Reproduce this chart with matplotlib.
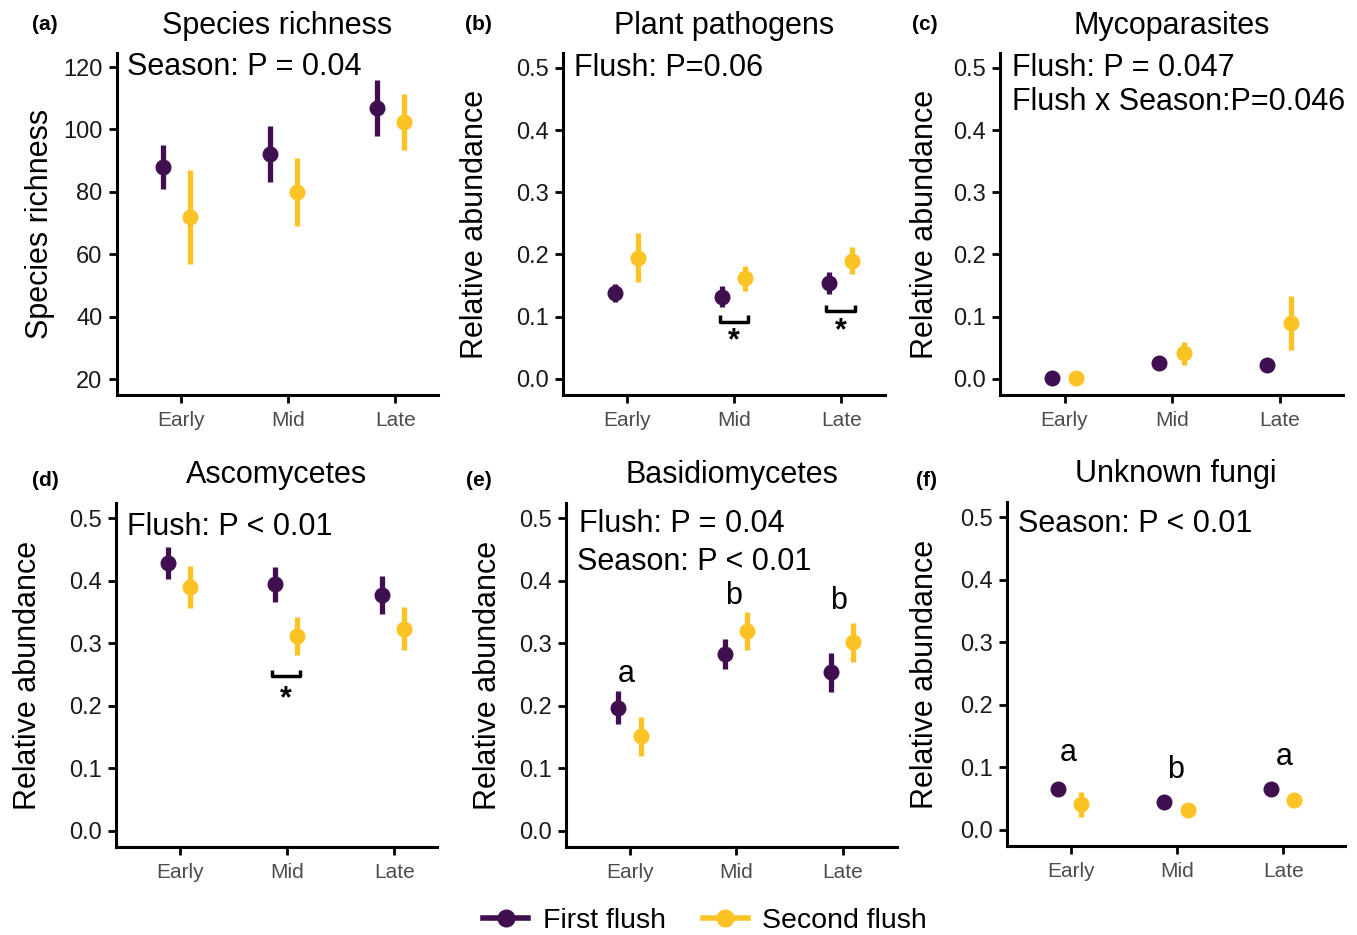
import matplotlib
matplotlib.use("Agg")
import matplotlib.pyplot as plt
from matplotlib.lines import Line2D

plt.rcParams['font.family'] = ['Liberation Sans', 'DejaVu Sans']

seasons = ["Early", "Mid", "Late"]
series = ["First flush", "Second flush"]
colors = ["#3f0f50", "#fdc324"]

# (a) Species richness
rich_first = [88, 92, 107]
rich_first_err = [7, 9, 9]
rich_second = [72, 80, 102.5]
rich_second_err = [15, 11, 9]

# (b) Plant pathogens
path_first = [0.138, 0.132, 0.154]
path_first_err = [0.015, 0.017, 0.018]
path_second = [0.195, 0.162, 0.190]
path_second_err = [0.040, 0.020, 0.022]

# (c) Mycoparasites
myco_first = [0.002, 0.025, 0.022]
myco_first_err = [0.002, 0.003, 0.003]
myco_second = [0.002, 0.041, 0.090]
myco_second_err = [0.002, 0.019, 0.043]

# (d) Ascomycetes
asco_first = [0.428, 0.394, 0.377]
asco_first_err = [0.025, 0.028, 0.031]
asco_second = [0.390, 0.311, 0.323]
asco_second_err = [0.034, 0.030, 0.034]

# (e) Basidiomycetes
basi_first = [0.197, 0.283, 0.253]
basi_first_err = [0.027, 0.024, 0.031]
basi_second = [0.151, 0.319, 0.301]
basi_second_err = [0.031, 0.030, 0.031]

# (f) Unknown fungi
unk_first = [0.065, 0.045, 0.065]
unk_first_err = [0.003, 0.003, 0.003]
unk_second = [0.041, 0.032, 0.048]
unk_second_err = [0.020, 0.003, 0.004]

titles = ["Species richness", "Plant pathogens", "Mycoparasites",
          "Ascomycetes", "Basidiomycetes", "Unknown fungi"]
panel_labels = ["(a)", "(b)", "(c)", "(d)", "(e)", "(f)"]
ylabels = ["Species richness"] + ["Relative abundance"] * 5
stats = [
    ["Season: P = 0.04"],
    ["Flush: P=0.06"],
    ["Flush: P = 0.047", "Flush x Season:P=0.046"],
    ["Flush: P < 0.01"],
    ["Flush: P = 0.04", "Season: P < 0.01"],
    ["Season: P < 0.01"],
]
# letters: (x, y, text)
letters = {
    4: [(0.97, 0.25, "a"), (1.97, 0.375, "b"), (2.96, 0.367, "b")],
    5: [(0.98, 0.122, "a"), (1.99, 0.096, "b"), (3.01, 0.117, "a")],
}
# brackets: (x0, x1, y_low, y_high, star_y)
brackets = {
    1: [(1.87, 2.13, 0.092, 0.103, 0.060), (2.86, 3.13, 0.109, 0.119, 0.076)],
    3: [(1.86, 2.12, 0.248, 0.257, 0.211)],
}

panel_data = [
    (rich_first, rich_first_err, rich_second, rich_second_err),
    (path_first, path_first_err, path_second, path_second_err),
    (myco_first, myco_first_err, myco_second, myco_second_err),
    (asco_first, asco_first_err, asco_second, asco_second_err),
    (basi_first, basi_first_err, basi_second, basi_second_err),
    (unk_first, unk_first_err, unk_second, unk_second_err),
]

W, H = 1357, 935


def rect(l, r, t, b):
    return [l / W, 1 - b / H, (r - l) / W, (b - t) / H]


rects = [rect(117, 438, 53, 395), rect(563, 885, 53, 395), rect(1000, 1343, 53, 395),
         rect(116, 437, 503, 847), rect(566, 897, 503, 847), rect(1007, 1345, 502, 846)]
xright = [3.40, 3.41, 3.59, 3.40, 3.51, 3.58]
dodges = [(-0.17, 0.08), (-0.11, 0.10), (-0.12, 0.11),
          (-0.11, 0.09), (-0.11, 0.10), (-0.12, 0.10)]
label_dx = [77, 88, 75, 88, 78, 82]
stat_pos = [[(0.031, 0.959)], [(0.034, 0.956)], [(0.034, 0.956), (0.034, 0.858)],
            [(0.033, 0.931)], [(0.040, 0.939), (0.032, 0.829)], [(0.033, 0.936)]]
plabel_pos = [(32, 25), (465, 25), (912, 25), (32, 480), (466, 480), (916, 480)]

fig = plt.figure(figsize=(W / 100, H / 100), dpi=100)

for i in range(6):
    ax = fig.add_axes(rects[i])
    first, first_err, second, second_err = panel_data[i]
    x = [1, 2, 3]
    for vals, errs, off, c in [(first, first_err, dodges[i][0], colors[0]),
                               (second, second_err, dodges[i][1], colors[1])]:
        ax.errorbar([p + off for p in x], vals, yerr=errs, fmt="o", color=c,
                    ms=10.5, elinewidth=3.8, capsize=0, zorder=3)

    ax.set_xlim(0.4, xright[i])
    if i == 0:
        ax.set_ylim(14.9, 124.5)
        ax.set_yticks([20, 40, 60, 80, 100, 120])
    else:
        ax.set_ylim(-0.026, 0.524)
        ax.set_yticks([0.0, 0.1, 0.2, 0.3, 0.4, 0.5])
        ax.set_yticklabels(["0.0", "0.1", "0.2", "0.3", "0.4", "0.5"])
    ax.set_xticks(x)
    ax.set_xticklabels(seasons)

    for s in ["top", "right"]:
        ax.spines[s].set_visible(False)
    for s in ["left", "bottom"]:
        ax.spines[s].set_linewidth(2.2)
    ax.tick_params(axis="both", width=2, length=5.5)
    ax.tick_params(axis="x", labelsize=15, labelcolor="#4d4d4d", pad=6)
    ax.tick_params(axis="y", labelsize=17, labelcolor="#1a1a1a", pad=5)

    ax.set_ylabel(ylabels[i], fontsize=22, va="center")
    ax.yaxis.set_label_coords(-label_dx[i] / (rects[i][2] * W), 0.5)

    ax.text(0.5, 1.08, titles[i], transform=ax.transAxes, ha="center",
            va="center", fontsize=22)
    for txt, (tx, ty) in zip(stats[i], stat_pos[i]):
        ax.text(tx, ty, txt, transform=ax.transAxes, ha="left", va="center",
                fontsize=22)

    for lx, ly, lt in letters.get(i, []):
        ax.text(lx, ly, lt, ha="center", va="center", fontsize=22)
    for x0, x1, ylo, yhi, sy in brackets.get(i, []):
        ax.plot([x0, x0, x1, x1], [yhi, ylo, ylo, yhi], color="black", lw=2.5,
                solid_capstyle="butt")
        ax.text((x0 + x1) / 2, sy, "*", ha="center", va="center",
                fontsize=22, fontweight="bold")

    px, py = plabel_pos[i]
    fig.text(px / W, 1 - py / H, panel_labels[i], ha="left", va="center",
             fontsize=15, fontweight="bold")

handles = [Line2D([0], [0], color=c, lw=4, marker="o", ms=12) for c in colors]
fig.legend(handles, series, loc="center", bbox_to_anchor=(705 / W, 1 - 921 / H),
           ncol=2, frameon=False, fontsize=20.5, handlelength=1.6,
           handletextpad=0.5, columnspacing=1.3, borderpad=0)

fig.savefig("out.png", dpi=100)
